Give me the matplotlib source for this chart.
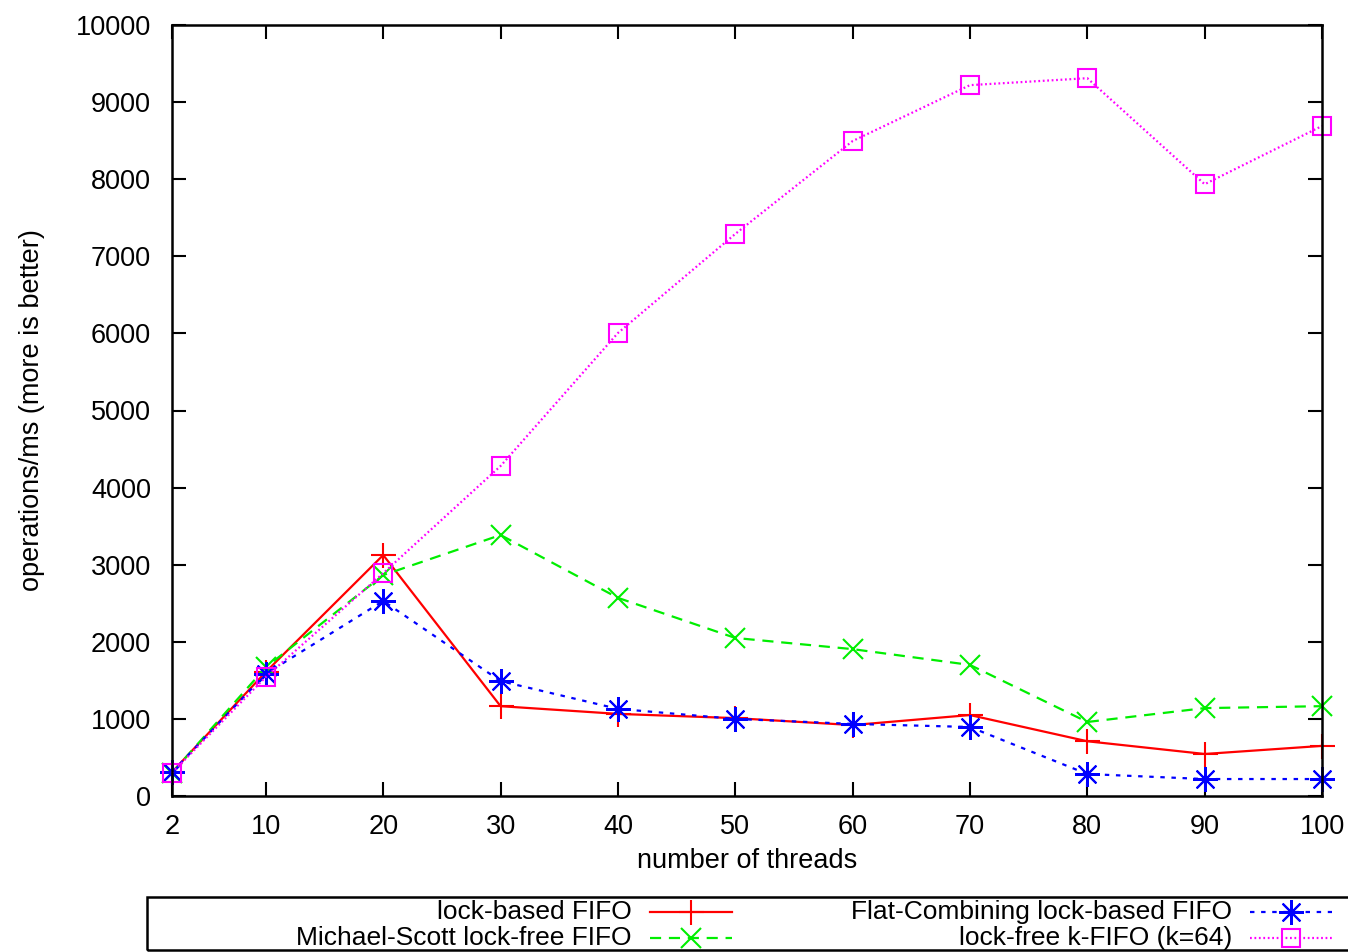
import matplotlib
matplotlib.use("Agg")

import matplotlib.pyplot as plt
from matplotlib.lines import Line2D
from matplotlib.patches import Rectangle

threads = [2, 10, 20, 30, 40, 50, 60, 70, 80, 90, 100]

lock_based = [310, 1610, 3125, 1165, 1065, 1010, 920, 1050, 710, 545, 650]
michael_scott = [300, 1670, 2865, 3385, 2570, 2050, 1905, 1700, 960, 1140, 1165]
flat_combining = [310, 1585, 2530, 1490, 1130, 1000, 935, 895, 285, 220, 220]
kfifo = [300, 1545, 2890, 4280, 6005, 7290, 8495, 9220, 9310, 7935, 8690]

x_ticks = [2, 10, 20, 30, 40, 50, 60, 70, 80, 90, 100]
y_ticks = list(range(0, 10001, 1000))

plt.rcParams["font.family"] = ["Liberation Sans", "DejaVu Sans"]

W, H = 1348, 952
fig = plt.figure(figsize=(W / 100, H / 100), dpi=100)
ax = fig.add_axes([172 / W, 1 - 796 / H, (1322 - 172) / W, (796 - 25) / H])

styles = [
    dict(color="#ff0000", linestyle="-", marker="+", markersize=18, mfc="none"),
    dict(color="#00ee00", linestyle=(0, (5, 3.5)), marker="x", markersize=14, mfc="none"),
    dict(color="#0000ff", linestyle=(0, (2, 3)), marker=(8, 2, 0), markersize=18, mfc="none"),
    dict(color="#ff00ff", linestyle=(0, (0.8, 1.2)), marker="s", markersize=13, mfc="none"),
]
labels = ["lock-based FIFO", "Michael-Scott lock-free FIFO",
          "Flat-Combining lock-based FIFO", "lock-free k-FIFO (k=64)"]
series = [lock_based, michael_scott, flat_combining, kfifo]

for vals, st, lab in zip(series, styles, labels):
    ax.plot(threads, vals, linewidth=1.6, markeredgewidth=1.5, label=lab, clip_on=False, **st)

ax.set_xlim(2, 100)
ax.set_ylim(0, 10000)
ax.set_xticks(x_ticks)
ax.set_yticks(y_ticks)
ax.tick_params(direction="in", length=10, width=1.5, top=True, right=True, labelsize=19.5)
ax.tick_params(axis="x", pad=13)
ax.tick_params(axis="y", pad=15)
for s in ax.spines.values():
    s.set_linewidth(1.8)

ax.set_xlabel("number of threads", fontsize=19.5, labelpad=6)
ax.set_ylabel("operations/ms (more is better)", fontsize=19.5, labelpad=22)

# legend box below the plot, gnuplot style: text right-aligned, sample on the right
fig.add_artist(Rectangle((147 / W, 1 - 950 / H), 1300 / W, 53 / H, transform=fig.transFigure,
                         fill=False, edgecolor="black", linewidth=1.8))
cols = [(632, 650, 732), (1232, 1250, 1332)]
rows = [912, 938]
order = [(0, 0), (0, 1), (1, 0), (1, 1)]
for (c, r), st, lab in zip(order, styles, labels):
    tx, x0, x1 = cols[c]
    y = 1 - rows[r] / H
    fig.text(tx / W, y, lab, ha="right", va="center", fontsize=19)
    fig.add_artist(Line2D([x0 / W, x1 / W], [y, y], transform=fig.transFigure,
                          color=st["color"], linestyle=st["linestyle"], linewidth=1.6))
    fig.add_artist(Line2D([(x0 + x1) / 2 / W], [y], transform=fig.transFigure,
                          color=st["color"], marker=st["marker"], markersize=st["markersize"],
                          mfc="none", markeredgewidth=1.5, linestyle="none"))

fig.savefig("out.png", dpi=100)
